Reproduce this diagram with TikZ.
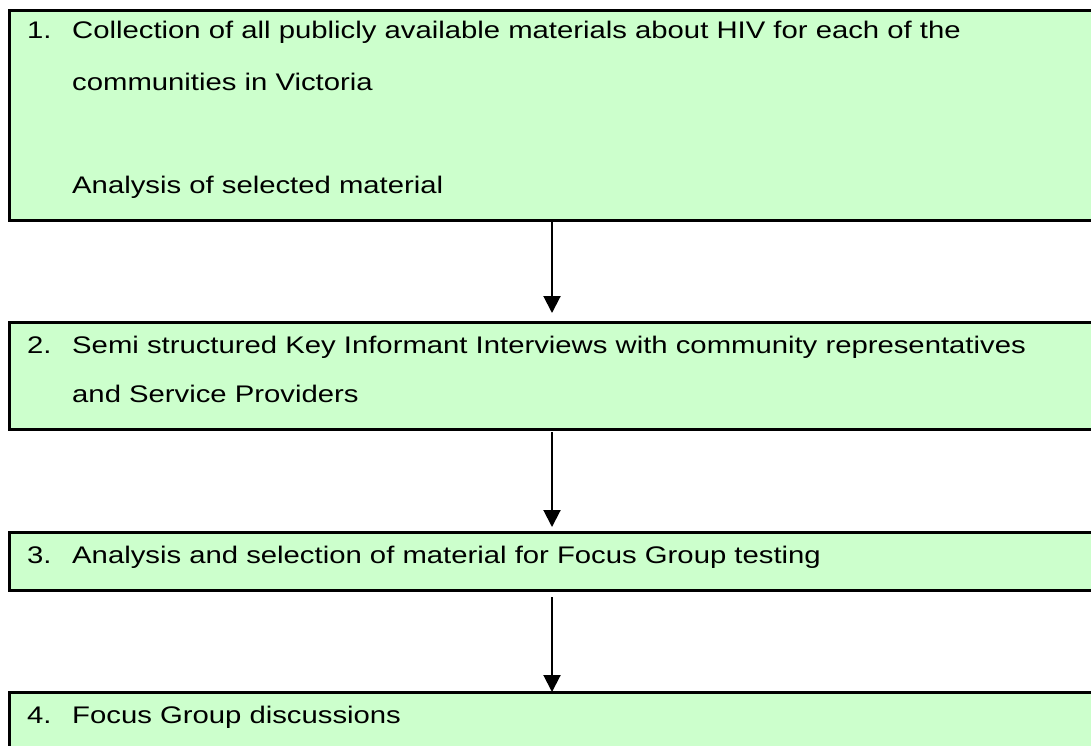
\documentclass[tikz,border=0pt]{standalone}
\usepackage{fontspec}
\setmainfont{Liberation Sans}[FakeStretch=1.22]
\usetikzlibrary{arrows.meta}
\definecolor{boxgreen}{HTML}{CCFFCC}
\begin{document}
\begin{tikzpicture}[x=1pt,y=-1pt,
  stepbox/.style={draw=black,line width=3pt,fill=boxgreen,rectangle,anchor=north west,inner sep=0pt,outer sep=0pt},
  lbl/.style={anchor=base west,inner sep=0pt,font=\fontsize{24}{28}\selectfont},
  flow/.style={line width=2pt,-{Triangle[length=17pt,width=17pt]}}]
\useasboundingbox (0,0) rectangle (1091,745);
\clip (0,0) rectangle (1091,745);
\fill[white] (0,0) rectangle (1091,745);
\node[stepbox,minimum width=1091pt,minimum height=210pt] (b1) at (9,10) {};
\node[stepbox,minimum width=1091pt,minimum height=107pt] (b2) at (9,322) {};
\node[stepbox,minimum width=1091pt,minimum height=58pt] (b3) at (9,532) {};
\node[stepbox,minimum width=1091pt,minimum height=80pt] (b4) at (9,692) {};
\draw[flow] ([xshift=-2.5pt,yshift=-2pt]b1.south) -- ([xshift=-2.5pt,yshift=9pt]b2.north);
\draw[flow] ([xshift=-2.5pt,yshift=-3pt]b2.south) -- ([xshift=-2.5pt,yshift=5pt]b3.north);
\draw[flow] ([xshift=-2.5pt,yshift=-7pt]b3.south) -- ([xshift=-2.5pt]b4.north);
\node[lbl] (n1) at (27,38) {1.};
\node[lbl] (t1a) at (72,38) {Collection of all publicly available materials about HIV for each of the};
\node[lbl] (t1b) at (72,90) {communities in Victoria};
\node[lbl] (t1c) at (72,193) {Analysis of selected material};
\node[lbl] (n2) at (27,353) {2.};
\node[lbl] (t2a) at (72,353) {Semi structured Key Informant Interviews with community representatives};
\node[lbl] (t2b) at (72,402) {and Service Providers};
\node[lbl] (n3) at (27,563) {3.};
\node[lbl] (t3a) at (72,563) {Analysis and selection of material for Focus Group testing};
\node[lbl] (n4) at (27,723) {4.};
\node[lbl] (t4a) at (72,723) {Focus Group discussions};
\end{tikzpicture}
\end{document}
